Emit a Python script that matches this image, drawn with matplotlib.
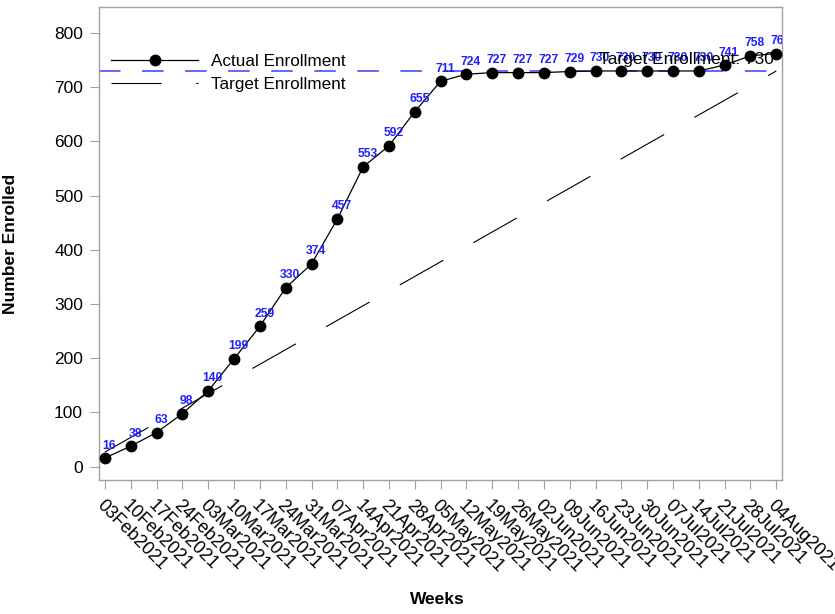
import matplotlib
matplotlib.use("Agg")
import matplotlib.pyplot as plt
import numpy as np

plt.rcParams['font.family'] = ['Liberation Sans', 'DejaVu Sans']
plt.rcParams['lines.scale_dashes'] = False

weeks = ["03Feb2021", "10Feb2021", "17Feb2021", "24Feb2021", "03Mar2021", "10Mar2021",
         "17Mar2021", "24Mar2021", "31Mar2021", "07Apr2021", "14Apr2021", "21Apr2021",
         "28Apr2021", "05May2021", "12May2021", "19May2021", "26May2021", "02Jun2021",
         "09Jun2021", "16Jun2021", "23Jun2021", "30Jun2021", "07Jul2021", "14Jul2021",
         "21Jul2021", "28Jul2021", "04Aug2021"]
actual = [16, 38, 63, 98, 140, 199, 259, 330, 374, 457, 553, 592, 655, 711, 724,
          727, 727, 727, 729, 730, 730, 730, 730, 730, 741, 758, 762]
target = [27, 54, 81, 108, 135, 162, 189, 216, 243, 270, 297, 324, 351, 378, 406,
          433, 460, 487, 514, 541, 568, 595, 622, 649, 676, 703, 730]
target_total = 730
yticks = [0, 100, 200, 300, 400, 500, 600, 700, 800]

fig = plt.figure(figsize=(8.35, 6.14), dpi=100)
ax = fig.add_axes([0.1186, 0.2182, 0.9368 - 0.1186, 0.9886 - 0.2182])

x = np.arange(len(weeks))

ax.axhline(target_total, color='#3c3cff', lw=1.1, dashes=(15.5, 15.5), zorder=1)

ax.plot(x, actual, color='black', lw=0.9, marker='o', markersize=7.5,
        markerfacecolor='black', markeredgecolor='black', label='Actual Enrollment', zorder=3)
ax.plot(x, target, color='black', lw=0.8, dashes=(36, 25), label='Target Enrollment', zorder=2)

for xi, v in zip(x, actual):
    ax.annotate(str(v), (xi, v), xytext=(3.2, 9), textcoords='offset points',
                ha='center', va='center', fontsize=8.7, fontweight='bold',
                color='#2020ff', annotation_clip=False, clip_on=True, zorder=4)

ax.annotate(f"Target Enrollment: {target_total}", (x[-1], target_total), xytext=(-2, 3),
            textcoords='offset points', ha='right', va='bottom', fontsize=12.5,
            color='black', zorder=5)

ax.set_xlim(-0.23, len(weeks) - 1 + 0.23)
ax.set_ylim(-24.6, 848)
ax.set_yticks(yticks)
ax.set_xticks(x)
ax.set_xticklabels(weeks, rotation=-45, ha='left', va='top', rotation_mode='anchor', fontsize=13)
ax.tick_params(axis='y', labelsize=12.5, length=6.5, width=0.8, color='#a0a0a0', pad=5)
ax.tick_params(axis='x', length=6.2, width=0.8, color='#a0a0a0', pad=6)
for s in ax.spines.values():
    s.set_color('#a0a0a0')
    s.set_linewidth(1.0)

ax.set_ylabel("Number Enrolled", fontsize=12.5, fontweight='bold')
ax.yaxis.set_label_coords(-0.1186, 0.5)
ax.set_xlabel("Weeks", fontsize=12.5, fontweight='bold')
ax.xaxis.set_label_coords(0.495, -0.252)
ax.xaxis.label.set_va('center')

leg = ax.legend(loc='upper left', bbox_to_anchor=(0.0176, 0.901), frameon=False,
                fontsize=12.3, handlelength=5.1, handletextpad=0.76, labelspacing=0.5,
                borderpad=0, borderaxespad=0)

fig.savefig("out.png", dpi=100)
